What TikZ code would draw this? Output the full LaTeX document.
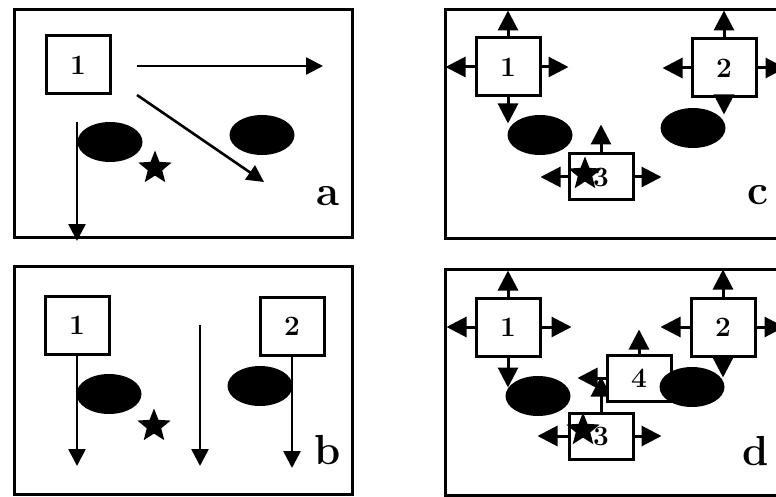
\documentclass[tikz,border=0pt]{standalone}
\usepackage{fontspec}
\usepackage{tikz}
\usetikzlibrary{arrows.meta,calc,positioning,shapes.geometric}

\begin{document}
\begin{tikzpicture}[x=1pt, y=-1pt,
    panel/.style={draw, line width=3pt},
    cell/.style={draw, line width=3pt, fill=white, minimum width=64pt, minimum height=58pt, inner sep=0pt, font=\fontsize{28}{28}\selectfont\bfseries},
    flatcell/.style={cell, minimum height=46pt},
    blob/.style={ellipse, fill=black, minimum width=65pt, minimum height=40pt, inner sep=0pt},
    spot/.style={star, star points=5, star point ratio=2.3, fill=black, minimum size=35pt, inner sep=0pt},
    ray/.style={line width=2.6pt, -{Triangle[length=17pt, width=17pt]}},
    push/.style={line width=3pt, -{Triangle[length=20pt, width=20pt]}},
    tag/.style={font=\fontsize{42}{42}\selectfont\bfseries}]
    \useasboundingbox (0,0) rectangle (776,497);
    \clip (0,0) rectangle (776,497);

    % Panel a
    \draw[panel] (14,10) rectangle (352,237);
    \node[cell] (a1) at (78,65) {1};
    \coordinate (a0) at (137,66);
    \coordinate (a0e) at (323,66);
    \coordinate (a2) at (137,95);
    \coordinate (a2e) at (264,182);
    \coordinate (a3) at (77,122);
    \coordinate (a3e) at (77,241);
    \draw[ray] (a0) -- (a0e);
    \draw[ray] (a2) -- (a2e);
    \node[blob] (aL) at (110,142) {};
    \node[blob] (aR) at (262,135) {};
    \draw[ray] (a3) -- (a3e);
    \node[spot] (aS) at (155,168) {};
    \node[tag] (aT) at (328,196) {a};

    % Panel b
    \draw[panel] (14,266) rectangle (352,494);
    \node[cell] (b1) at (77,325) {1};
    \node[cell] (b2) at (292,326) {2};
    \node[blob] (bL) at (109,394) {};
    \node[blob] (bR) at (260,386) {};
    \coordinate (b1e) at (77,466);
    \coordinate (b0) at (200,325);
    \coordinate (b0e) at (200,466);
    \coordinate (b2e) at (292,468);
    \draw[ray] (b1) -- (b1e);
    \draw[ray] (b0) -- (b0e);
    \draw[ray] (b2) -- (b2e);
    \node[spot] (bS) at (154,426) {};
    \node[tag] (bT) at (328,450) {b};

    % Panel c
    \draw[panel] (445,10) rectangle (800,238);
    \node[cell] (c1) at (508,67) {1};
    \node[cell] (c2) at (724,68) {2};
    \node[flatcell] (c3) at (601,177) {3};
    \foreach \n/\a/\dx/\dy in {c1/north/0/-26, c1/south/0/26, c1/west/-29/0, c1/east/27/0,
                                c2/north/0/-27, c2/south/0/16, c2/west/-28/0, c2/east/28/0,
                                c3/north/0/-28, c3/west/-27/0, c3/east/27/0} {
        \coordinate (\n\a) at ($(\n.\a)+(\dx,\dy)$);
        \draw[push] (\n.\a) -- (\n\a);
    }
    \node[blob] (cL) at (540,135) {};
    \node[blob] (cR) at (693,128) {};
    \node[spot] (cS) at (585,174) {};
    \node[tag] (cT) at (758,195) {c};

    % Panel d
    \draw[panel] (445,269) rectangle (800,495);
    \node[cell] (d1) at (508,327) {1};
    \node[cell] (d2) at (723,327) {2};
    \node[flatcell] (d3) at (601,436) {3};
    \foreach \n/\a/\dx/\dy in {d1/north/0/-26, d1/south/0/30, d1/west/-28/0, d1/east/30/0,
                                d2/north/0/-27, d2/south/0/20, d2/west/-29/0, d2/east/28/0,
                                d3/north/0/-35, d3/west/-30/0, d3/east/27/0} {
        \coordinate (\n\a) at ($(\n.\a)+(\dx,\dy)$);
        \draw[push] (\n.\a) -- (\n\a);
    }
    \node[flatcell] (d4) at (639,378) {4};
    \foreach \n/\a/\dx/\dy in {d4/north/0/-24, d4/west/-28/0} {
        \coordinate (\n\a) at ($(\n.\a)+(\dx,\dy)$);
        \draw[push] (\n.\a) -- (\n\a);
    }
    \node[blob] (dL) at (538,396) {};
    \node[blob] (dR) at (692,387) {};
    \node[spot] (dS) at (583,430) {};
    \node[tag] (dT) at (756,451) {d};
\end{tikzpicture}
\end{document}
